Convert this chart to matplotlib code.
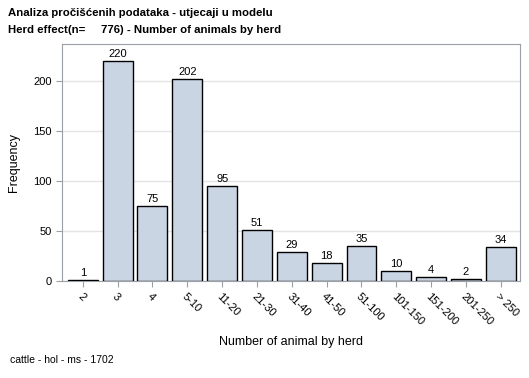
import matplotlib
matplotlib.use("Agg")
import matplotlib.pyplot as plt

categories = ['2', '3', '4', '5-10', '11-20', '21-30', '31-40', '41-50',
              '51-100', '101-150', '151-200', '201-250', '> 250']
counts = [1, 220, 75, 202, 95, 51, 29, 18, 35, 10, 4, 2, 34]
yticks = [0, 50, 100, 150, 200]

plt.rcParams['font.family'] = ['Liberation Sans', 'DejaVu Sans']

fig = plt.figure(figsize=(5.29, 3.78), dpi=100)
ax = fig.add_axes([0.117, 0.2566, 0.866, 0.627])

xs = list(range(len(categories)))
ax.bar(xs, counts, width=0.86, color='#CAD5E4', edgecolor='black',
       linewidth=1, zorder=3)
for x, c in zip(xs, counts):
  ax.text(x, c + 2, str(c), ha='center', va='bottom', fontsize=8, zorder=4)

ax.set_xlim(-0.6, 12.55)
ax.set_ylim(0, 237)
ax.set_yticks(yticks)
ax.yaxis.grid(True, color='#e4e4e4', linewidth=1, zorder=0)
ax.set_xticks(xs)
ax.set_xticklabels(categories, rotation=-45, ha='left', va='top',
                   rotation_mode='anchor', fontsize=8)
ax.tick_params(axis='both', colors='#9aa0a6', labelcolor='black',
               labelsize=8, length=4)
for side in ax.spines.values():
  side.set_color('#9aa0a6')

ax.set_ylabel('Frequency', fontsize=9, labelpad=9)
ax.set_xlabel('Number of animal by herd', fontsize=9, labelpad=6)

fig.text(0.015, 0.965, 'Analiza pročišćenih podataka - utjecaji u modelu',
         fontsize=8.2, fontweight='bold', va='center')
fig.text(0.015, 0.92, 'Herd effect(n=     776) - Number of animals by herd',
         fontsize=8.2, fontweight='bold', va='center')
fig.text(0.019, 0.048, 'cattle - hol - ms - 1702', fontsize=7.5, va='center')

plt.savefig('out.png', dpi=100)
plt.close()
